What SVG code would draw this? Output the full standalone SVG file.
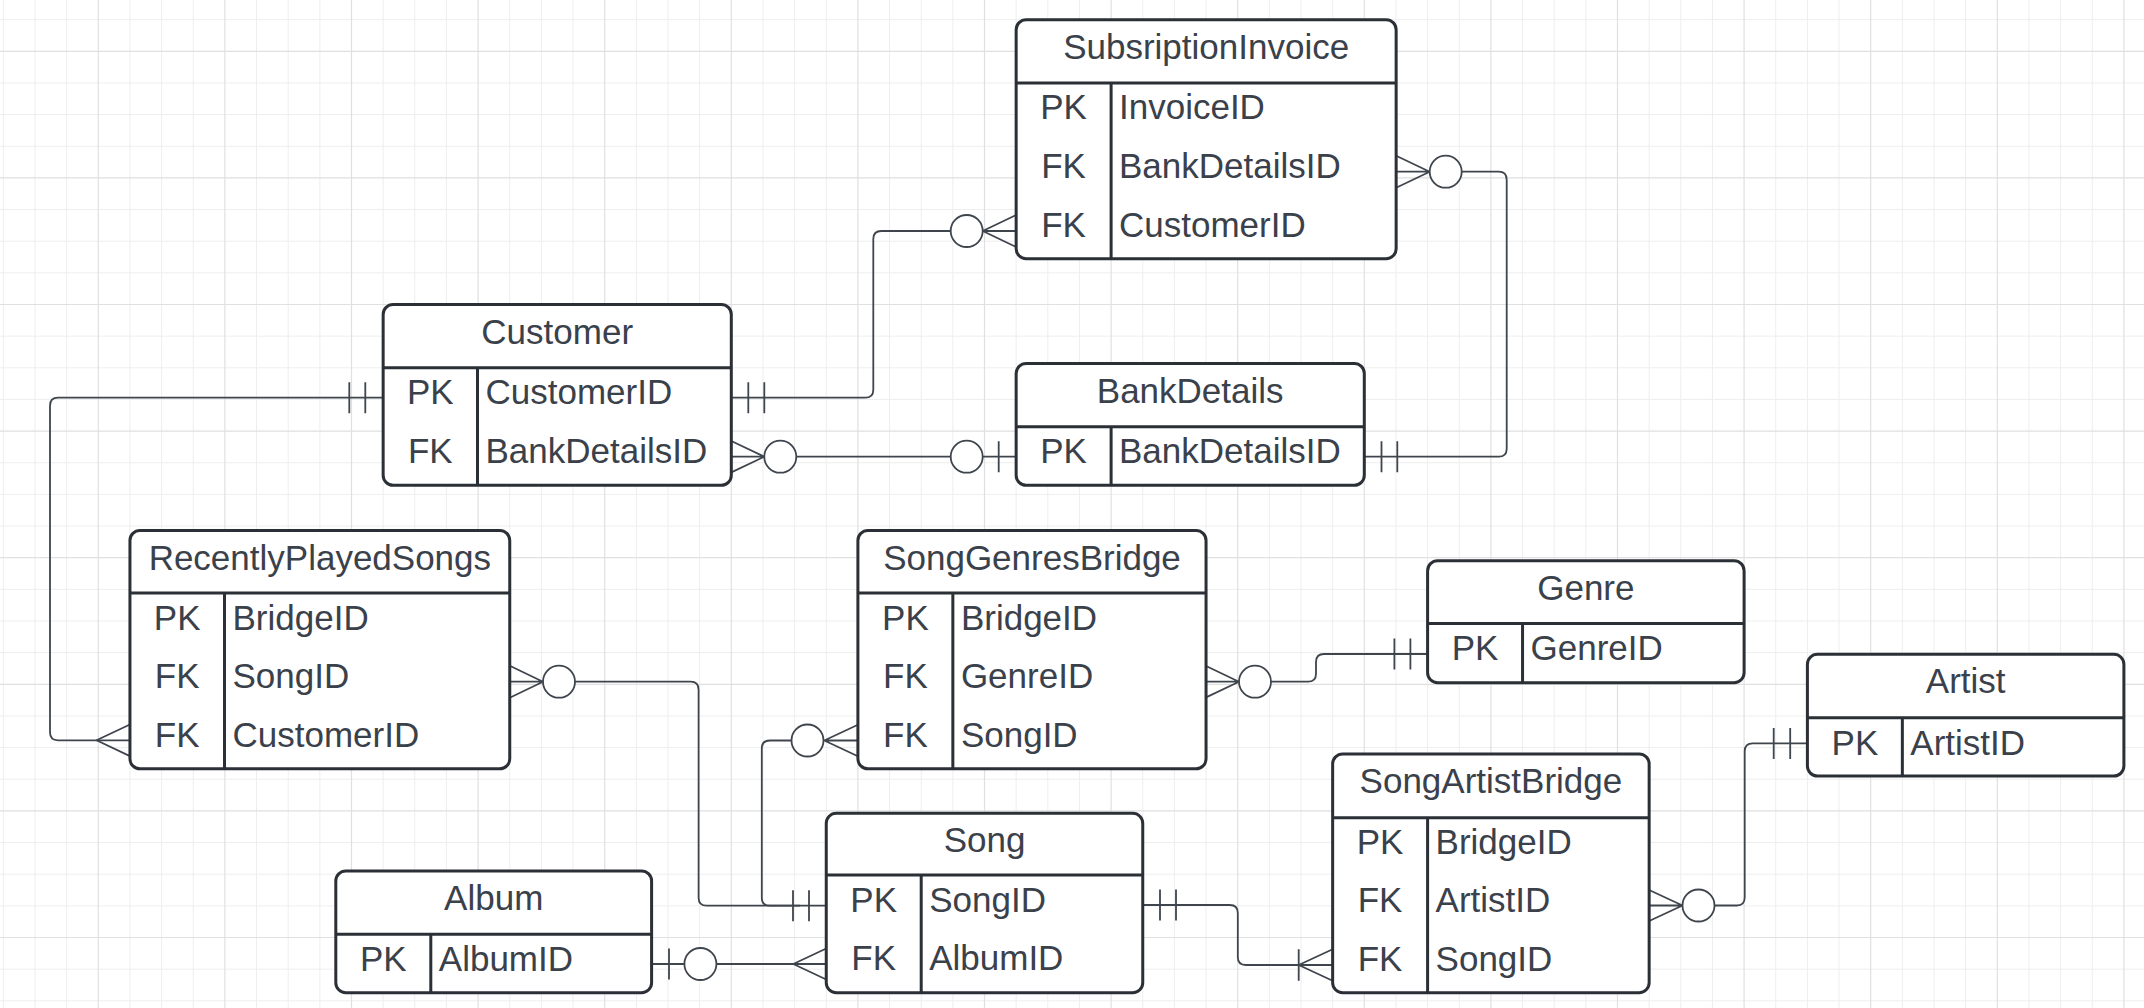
<svg xmlns="http://www.w3.org/2000/svg" width="2144" height="1008" viewBox="0 0 2144 1008">
<style>
.gmin{stroke:#eeeeee;stroke-width:1;fill:none}
.gmaj{stroke:#e0e0e0;stroke-width:1.2;fill:none}
.box{fill:#ffffff;stroke:#2b2f36;stroke-width:3}
.div{stroke:#2b2f36;stroke-width:3;fill:none}
.t{font-family:"Liberation Sans",Arial,sans-serif;font-size:35px;fill:#3a414a}
.c{text-anchor:middle}
.cn{fill:none;stroke:#3f454d;stroke-width:1.8;stroke-linejoin:round}
.ring{fill:#ffffff;stroke:#3f454d;stroke-width:1.8}
</style>
<rect x="0" y="0" width="2144" height="1008" fill="#ffffff"/>
<g id="grid">
<path class="gmin" d="M3.35 0V1008M35 0V1008M66.65 0V1008M129.95 0V1008M161.6 0V1008M193.25 0V1008M256.55 0V1008M288.2 0V1008M319.85 0V1008M383.15 0V1008M414.8 0V1008M446.45 0V1008M509.75 0V1008M541.4 0V1008M573.05 0V1008M636.35 0V1008M668 0V1008M699.65 0V1008M762.95 0V1008M794.6 0V1008M826.25 0V1008M889.55 0V1008M921.2 0V1008M952.85 0V1008M1016.15 0V1008M1047.8 0V1008M1079.45 0V1008M1142.75 0V1008M1174.4 0V1008M1206.05 0V1008M1269.35 0V1008M1301 0V1008M1332.65 0V1008M1395.95 0V1008M1427.6 0V1008M1459.25 0V1008M1522.55 0V1008M1554.2 0V1008M1585.85 0V1008M1649.15 0V1008M1680.8 0V1008M1712.45 0V1008M1775.75 0V1008M1807.4 0V1008M1839.05 0V1008M1902.35 0V1008M1934 0V1008M1965.65 0V1008M2028.95 0V1008M2060.6 0V1008M2092.25 0V1008
M0 19.65H2144M0 82.95H2144M0 114.6H2144M0 146.25H2144M0 209.55H2144M0 241.2H2144M0 272.85H2144M0 336.15H2144M0 367.8H2144M0 399.45H2144M0 462.75H2144M0 494.4H2144M0 526.05H2144M0 589.35H2144M0 621H2144M0 652.65H2144M0 715.95H2144M0 747.6H2144M0 779.25H2144M0 842.55H2144M0 874.2H2144M0 905.85H2144M0 969.15H2144M0 1000.8H2144"/>
<path class="gmaj" d="M98.3 0V1008M224.9 0V1008M351.5 0V1008M478.1 0V1008M604.7 0V1008M731.3 0V1008M857.9 0V1008M984.5 0V1008M1111.1 0V1008M1237.7 0V1008M1364.3 0V1008M1490.9 0V1008M1617.5 0V1008M1744.1 0V1008M1870.7 0V1008M1997.3 0V1008M2123.9 0V1008
M0 51.3H2144M0 177.9H2144M0 304.5H2144M0 431.1H2144M0 557.7H2144M0 684.3H2144M0 810.9H2144M0 937.5H2144"/>
</g>

<g id="connectors">
<!-- Customer.CustomerID -> SubsriptionInvoice.CustomerID -->
<path class="cn" d="M731.3 397.7H865.3Q873.3 397.7 873.3 389.7V239Q873.3 231 881.3 231H950.7"/>
<path class="cn" d="M748.3 382.2V413.2M764.3 382.2V413.2"/>
<path class="cn" d="M982.7 231L1016.15 215M982.7 231H1016.15M982.7 231L1016.15 247"/>
<circle class="ring" cx="966.7" cy="231" r="16"/>
<!-- Customer.BankDetailsID -> BankDetails.BankDetailsID -->
<path class="cn" d="M731.3 441L764.3 456.7L731.3 472.4M731.3 456.7H764.3"/>
<path class="cn" d="M796.3 456.7H950.7M982.7 456.7H1016.15M998.7 441.2V472.2"/>
<circle class="ring" cx="780.3" cy="456.7" r="16"/>
<circle class="ring" cx="966.7" cy="456.7" r="16"/>
<!-- SubsriptionInvoice.BankDetailsID -> BankDetails.BankDetailsID -->
<path class="cn" d="M1396.15 155.7L1429.7 171.7L1396.15 187.7M1396.15 171.7H1429.7"/>
<path class="cn" d="M1461.7 171.7H1498.7Q1506.7 171.7 1506.7 179.7V448.7Q1506.7 456.7 1498.7 456.7H1364.3"/>
<path class="cn" d="M1381.5 441.2V472.2M1397.3 441.2V472.2"/>
<circle class="ring" cx="1445.7" cy="171.7" r="16"/>
<!-- Customer.CustomerID -> RecentlyPlayedSongs.CustomerID -->
<path class="cn" d="M383.15 397.7H58Q50 397.7 50 405.7V732.3Q50 740.3 58 740.3H129.95"/>
<path class="cn" d="M349.3 382.2V413.2M365.3 382.2V413.2"/>
<path class="cn" d="M129.95 724.5L96.5 740.3L129.95 756.1"/>
<!-- RecentlyPlayedSongs.SongID -> Song.SongID -->
<path class="cn" d="M509.75 665.7L543 681.7L509.75 697.7M509.75 681.7H543"/>
<path class="cn" d="M575 681.7H690.6Q698.6 681.7 698.6 689.7V897.7Q698.6 905.7 706.6 905.7H826.25"/>
<circle class="ring" cx="559" cy="681.7" r="16"/>
<!-- SongGenresBridge.SongID -> Song.SongID -->
<path class="cn" d="M857.9 724.7L824.3 740.5L857.9 756.3M824.3 740.5H857.9"/>
<path class="cn" d="M791.5 740.5H769.8Q761.8 740.5 761.8 748.5V897.7Q761.8 905.7 769.8 905.7H800"/>
<circle class="ring" cx="807.5" cy="740.5" r="16"/>
<path class="cn" d="M793 890.2V921.2M809 890.2V921.2"/>
<!-- Album.AlbumID -> Song.AlbumID -->
<path class="cn" d="M651.4 964H684.4M716.4 964H826.25M669 948.5V979.5"/>
<path class="cn" d="M826.25 948.5L793.3 964L826.25 979.5"/>
<circle class="ring" cx="700.4" cy="964" r="16"/>
<!-- SongGenresBridge.GenreID -> Genre.GenreID -->
<path class="cn" d="M1206.05 666L1239 681.7L1206.05 697.4M1206.05 681.7H1239"/>
<path class="cn" d="M1271 681.7H1308Q1316 681.7 1316 673.7V662Q1316 654 1324 654H1427.6"/>
<path class="cn" d="M1394.4 638.5V669.5M1410.4 638.5V669.5"/>
<circle class="ring" cx="1255" cy="681.7" r="16"/>
<!-- Song.SongID -> SongArtistBridge.SongID -->
<path class="cn" d="M1142.75 905H1229.8Q1237.8 905 1237.8 913V957Q1237.8 965 1245.8 965H1332.65"/>
<path class="cn" d="M1160 889.5V920.5M1176 889.5V920.5"/>
<path class="cn" d="M1332.65 949.3L1298.7 965L1332.65 980.7M1298.7 949.3V980.7"/>
<!-- SongArtistBridge.ArtistID -> Artist.ArtistID -->
<path class="cn" d="M1649.15 890L1682.5 905.5L1649.15 921M1649.15 905.5H1682.5"/>
<path class="cn" d="M1714.5 905.5H1736.7Q1744.7 905.5 1744.7 897.5V751.3Q1744.7 743.3 1752.7 743.3H1807.4"/>
<path class="cn" d="M1773.7 728V759M1790.2 728V759"/>
<circle class="ring" cx="1698.5" cy="905.5" r="16"/>
</g>

<g id="SubsriptionInvoice">
<rect class="box" x="1016.15" y="19.65" width="380" height="239" rx="10"/>
<path class="div" d="M1016.15 82.95H1396.15M1111.1 82.95V258.65"/>
<text class="t c" x="1206.15" y="58.65">SubsriptionInvoice</text>
<text class="t c" x="1063.6" y="119.45">PK</text><text class="t" x="1119" y="119.45">InvoiceID</text>
<text class="t c" x="1063.6" y="178">FK</text><text class="t" x="1119" y="178">BankDetailsID</text>
<text class="t c" x="1063.6" y="236.55">FK</text><text class="t" x="1119" y="236.55">CustomerID</text>
</g>

<g id="Customer">
<rect class="box" x="383.15" y="304.5" width="348.15" height="180.8" rx="10"/>
<path class="div" d="M383.15 367.8H731.3M477.5 367.8V485.3"/>
<text class="t c" x="557.2" y="343.5">Customer</text>
<text class="t c" x="430.3" y="404.3">PK</text><text class="t" x="485.5" y="404.3">CustomerID</text>
<text class="t c" x="430.3" y="463.05">FK</text><text class="t" x="485.5" y="463.05">BankDetailsID</text>
</g>

<g id="BankDetails">
<rect class="box" x="1016.15" y="363.5" width="348.15" height="121.8" rx="10"/>
<path class="div" d="M1016.15 426.8H1364.3M1111.1 426.8V485.3"/>
<text class="t c" x="1190.2" y="402.5">BankDetails</text>
<text class="t c" x="1063.6" y="463.3">PK</text><text class="t" x="1119" y="463.3">BankDetailsID</text>
</g>

<g id="RecentlyPlayedSongs">
<rect class="box" x="129.95" y="530.5" width="379.8" height="238.3" rx="10"/>
<path class="div" d="M129.95 593H509.75M224.5 593V768.8"/>
<text class="t c" x="319.85" y="569.5">RecentlyPlayedSongs</text>
<text class="t c" x="177.2" y="629.5">PK</text><text class="t" x="232.5" y="629.5">BridgeID</text>
<text class="t c" x="177.2" y="688.1">FK</text><text class="t" x="232.5" y="688.1">SongID</text>
<text class="t c" x="177.2" y="746.7">FK</text><text class="t" x="232.5" y="746.7">CustomerID</text>
</g>

<g id="SongGenresBridge">
<rect class="box" x="857.9" y="530.5" width="348.15" height="238.3" rx="10"/>
<path class="div" d="M857.9 593H1206.05M952.85 593V768.8"/>
<text class="t c" x="1032" y="569.5">SongGenresBridge</text>
<text class="t c" x="905.4" y="629.5">PK</text><text class="t" x="960.9" y="629.5">BridgeID</text>
<text class="t c" x="905.4" y="688.1">FK</text><text class="t" x="960.9" y="688.1">GenreID</text>
<text class="t c" x="905.4" y="746.7">FK</text><text class="t" x="960.9" y="746.7">SongID</text>
</g>

<g id="Genre">
<rect class="box" x="1427.6" y="560.7" width="316.5" height="122" rx="10"/>
<path class="div" d="M1427.6 623.6H1744.1M1522.55 623.6V682.7"/>
<text class="t c" x="1585.85" y="599.5">Genre</text>
<text class="t c" x="1475.1" y="660.1">PK</text><text class="t" x="1530.5" y="660.1">GenreID</text>
</g>

<g id="Artist">
<rect class="box" x="1807.4" y="654.3" width="316.5" height="121.7" rx="10"/>
<path class="div" d="M1807.4 717.7H2123.9M1902.35 717.7V776"/>
<text class="t c" x="1965.65" y="693.3">Artist</text>
<text class="t c" x="1854.9" y="754.5">PK</text><text class="t" x="1910.3" y="754.5">ArtistID</text>
</g>

<g id="SongArtistBridge">
<rect class="box" x="1332.65" y="754" width="316.5" height="238.7" rx="10"/>
<path class="div" d="M1332.65 817.7H1649.15M1427.6 817.7V992.7"/>
<text class="t c" x="1490.9" y="793">SongArtistBridge</text>
<text class="t c" x="1380.1" y="854">PK</text><text class="t" x="1435.6" y="854">BridgeID</text>
<text class="t c" x="1380.1" y="912.3">FK</text><text class="t" x="1435.6" y="912.3">ArtistID</text>
<text class="t c" x="1380.1" y="970.7">FK</text><text class="t" x="1435.6" y="970.7">SongID</text>
</g>

<g id="Song">
<rect class="box" x="826.25" y="813.3" width="316.5" height="179.4" rx="10"/>
<path class="div" d="M826.25 875H1142.75M921.2 875V992.7"/>
<text class="t c" x="984.5" y="852.3">Song</text>
<text class="t c" x="873.7" y="911.5">PK</text><text class="t" x="929.2" y="911.5">SongID</text>
<text class="t c" x="873.7" y="970.35">FK</text><text class="t" x="929.2" y="970.35">AlbumID</text>
</g>

<g id="Album">
<rect class="box" x="335.8" y="871" width="315.8" height="121.7" rx="10"/>
<path class="div" d="M335.8 934.3H651.6M430.8 934.3V992.7"/>
<text class="t c" x="493.7" y="910">Album</text>
<text class="t c" x="383.3" y="970.8">PK</text><text class="t" x="438.8" y="970.8">AlbumID</text>
</g>
</svg>
